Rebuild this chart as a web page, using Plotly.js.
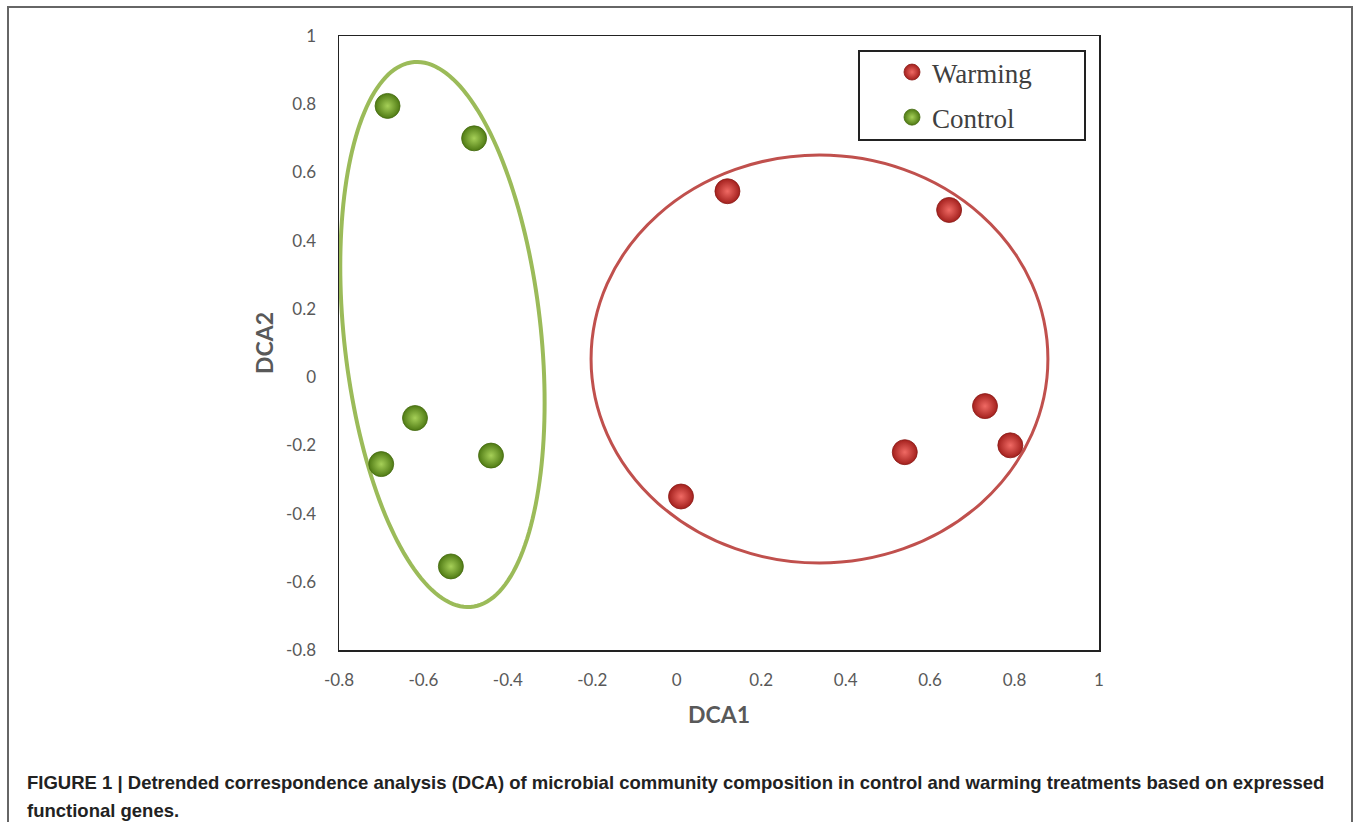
<!DOCTYPE html>
<html>
<head>
<meta charset="utf-8">
<script src="https://cdn.plot.ly/plotly-3.0.1.min.js"></script>
<style>
html,body{margin:0;padding:0;background:#fff;}
#chart{width:1357px;height:822px;}
</style>
</head>
<body>
<div id="chart"></div>
<script>
// ---- data ----
const seriesNames = ["Warming", "Control"];
const warmingX = [0.12, 0.645, 0.73, 0.79, 0.54, 0.01];
const warmingY = [0.545, 0.49, -0.085, -0.20, -0.22, -0.35];
const controlX = [-0.685, -0.48, -0.62, -0.70, -0.44, -0.535];
const controlY = [0.795, 0.70, -0.12, -0.255, -0.23, -0.555];
const xTicks = [-0.8, -0.6, -0.4, -0.2, 0, 0.2, 0.4, 0.6, 0.8, 1];
const xTickText = ["-0.8", "-0.6", "-0.4", "-0.2", "0", "0.2", "0.4", "0.6", "0.8", "1"];
const yTicks = [-0.8, -0.6, -0.4, -0.2, 0, 0.2, 0.4, 0.6, 0.8, 1];
const yTickText = ["-0.8", "-0.6", "-0.4", "-0.2", "0", "0.2", "0.4", "0.6", "0.8", "1"];
// ellipse outlines: [centerX, centerY, halfWidth, halfHeight, correlation]
const warmingEllipse = [0.338, 0.053, 0.541, 0.598, 0];
const controlEllipse = [-0.555, 0.125, 0.242, 0.799, -0.25];
const captionLines = [
  "FIGURE 1 | Detrended correspondence analysis (DCA) of microbial community composition in control and warming treatments based on expressed",
  "functional genes."
];

// ---- helpers ----
function ellipsePath(e) {
  const [cx, cy, hx, hy, rho] = e;
  const s = Math.sqrt(1 - rho * rho);
  let d = "";
  const n = 180;
  for (let i = 0; i <= n; i++) {
    const t = 2 * Math.PI * i / n;
    const x = cx + hx * Math.cos(t);
    const y = cy + hy * (rho * Math.cos(t) + s * Math.sin(t));
    d += (i === 0 ? "M" : "L") + x.toFixed(5) + "," + y.toFixed(5);
  }
  return d + "Z";
}

// plot-area geometry in pixels (for paper-coord conversions)
const W = 1357, H = 822;
const M = {l: 339, r: 258, t: 36, b: 172};
const pw = W - M.l - M.r, ph = H - M.t - M.b;
const px = v => (v - M.l) / pw;
const py = v => (H - M.b - v) / ph;

const traces = [
  {
    x: warmingX, y: warmingY, type: "scatter", mode: "markers",
    name: seriesNames[0], legendgroup: "w",
    marker: {size: 25, color: "#a3201d",
             gradient: {type: "radial", color: "#f06a64"},
             line: {color: "#8a1a17", width: 0.8}}
  },
  {
    x: controlX, y: controlY, type: "scatter", mode: "markers",
    name: seriesNames[1], legendgroup: "c",
    marker: {size: 25, color: "#4f7a14",
             gradient: {type: "radial", color: "#a6d058"},
             line: {color: "#456b10", width: 0.8}}
  }
];

const tickFont = {family: "Lato, 'Liberation Sans', sans-serif", size: 17, color: "#595959"};
const titleFont = {family: "Lato, 'Liberation Sans', sans-serif", size: 23, color: "#595959", weight: "bold"};
const captionFont = {family: "'Liberation Sans Narrow', 'Liberation Sans', Arial, sans-serif", size: 18.5, color: "#222"};

const layout = {
  width: W, height: H,
  margin: M,
  paper_bgcolor: "#fff", plot_bgcolor: "#fff",
  showlegend: true,
  xaxis: {
    range: [-0.8, 1], tickvals: xTicks, ticktext: xTickText,
    showgrid: false, zeroline: false, ticks: "",
    showline: true, linecolor: "#222", linewidth: 1.5, mirror: true,
    tickfont: tickFont, ticklabelstandoff: 14,
    title: {text: "<b>DCA1</b>", font: titleFont, standoff: 18},
    automargin: false, fixedrange: true
  },
  yaxis: {
    range: [-0.8, 1], tickvals: yTicks, ticktext: yTickText,
    showgrid: false, zeroline: false, ticks: "",
    showline: true, linecolor: "#222", linewidth: 1.5, mirror: true,
    tickfont: tickFont, ticklabelstandoff: 18,
    title: {text: "<b>DCA2</b>", font: titleFont, standoff: 6},
    automargin: false, fixedrange: true
  },
  legend: {
    x: px(892), y: py(48), xanchor: "left", yanchor: "top",
    bgcolor: "rgba(0,0,0,0)", borderwidth: 0,
    traceorder: "grouped", tracegroupgap: 7,
    font: {family: "'Liberation Serif', 'Times New Roman', serif", size: 27, color: "#404040"}
  },
  shapes: [
    {type: "circle", xref: "x", yref: "y", layer: "below",
     x0: warmingEllipse[0] - warmingEllipse[2], x1: warmingEllipse[0] + warmingEllipse[2],
     y0: warmingEllipse[1] - warmingEllipse[3], y1: warmingEllipse[1] + warmingEllipse[3],
     line: {color: "#c0504d", width: 3}},
    {type: "path", xref: "x", yref: "y", layer: "below",
     path: ellipsePath(controlEllipse),
     line: {color: "#9bbb59", width: 4}},
    // legend box
    {type: "rect", xref: "paper", yref: "paper",
     x0: px(859), x1: px(1085), y0: py(140), y1: py(51),
     line: {color: "#222", width: 2}, fillcolor: "rgba(0,0,0,0)"},
    // outer figure frame
    {type: "rect", xref: "paper", yref: "paper",
     x0: px(8), x1: px(1352), y0: py(840), y1: py(7),
     line: {color: "#666", width: 2}, fillcolor: "rgba(0,0,0,0)"}
  ],
  annotations: [
    {xref: "paper", yref: "paper", x: px(25), y: py(782),
     xanchor: "left", yanchor: "middle", align: "left", showarrow: false,
     text: "<b>" + captionLines[0] + "</b>", font: captionFont},
    {xref: "paper", yref: "paper", x: px(25), y: py(810),
     xanchor: "left", yanchor: "middle", align: "left", showarrow: false,
     text: "<b>" + captionLines[1] + "</b>", font: captionFont}
  ]
};

Plotly.newPlot("chart", traces, layout, {displayModeBar: false, staticPlot: true});
</script>
</body>
</html>
